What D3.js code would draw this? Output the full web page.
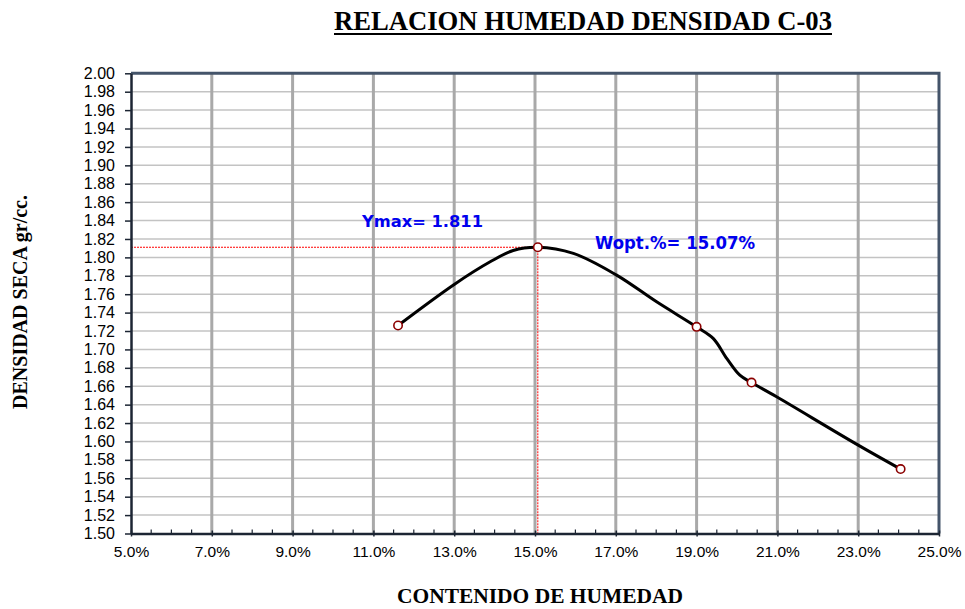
<!DOCTYPE html>
<html>
<head>
<meta charset="utf-8">
<script src="https://cdn.jsdelivr.net/npm/d3@7"></script>
<style>
  html, body { margin: 0; padding: 0; background: #fff; }
  svg { display: block; }
</style>
</head>
<body>
<svg id="chart" width="965" height="609"></svg>
<script>
// ---- data ----
const titleText = "RELACION HUMEDAD DENSIDAD C-03";
const xLabel = "CONTENIDO DE HUMEDAD";
const yLabel = "DENSIDAD SECA gr/cc.";
// measured points (moisture %, dry density)
const moisture = [11.61, 15.07, 19.00, 20.36, 24.05];
const density  = [1.726, 1.811, 1.7245, 1.664, 1.570];
// smoothed curve
const curveMoisture = [11.61, 13.00, 13.89, 14.46, 15.07, 15.95, 17.02, 18.01, 19.00, 19.41, 19.75, 20.07, 20.36, 20.98, 23.00, 24.05];
const curveDensity  = [1.726, 1.7706, 1.7952, 1.8075, 1.811, 1.8043, 1.7807, 1.7517, 1.7245, 1.712, 1.690, 1.672, 1.664, 1.6485, 1.596, 1.570];
const yMax = 1.811;
const wOpt = 15.07;
const xTicks = [5, 7, 9, 11, 13, 15, 17, 19, 21, 23, 25];
const yTicks = d3.range(0, 26).map(i => +(1.50 + i * 0.02).toFixed(2));
const xMinorTicks = d3.range(0, 41).map(i => 5 + i * 0.5);
const ymaxLabel = "Ymax= 1.811";
const woptLabel = "Wopt.%= 15.07%";

// ---- layout ----
const svg = d3.select("#chart");
const pLeft = 131, pRight = 939, pTop = 73.3, pBottom = 533.5;
const x = d3.scaleLinear().domain([5, 25]).range([pLeft, pRight]);
const y = d3.scaleLinear().domain([1.50, 2.00]).range([pBottom, pTop]);

// horizontal grid
svg.append("g").selectAll("line").data(yTicks.slice(1)).join("line")
  .attr("x1", pLeft).attr("x2", pRight)
  .attr("y1", d => y(d)).attr("y2", d => y(d))
  .attr("stroke", "#c3c3c3").attr("stroke-width", 1.5);
// vertical grid
svg.append("g").selectAll("line").data(xTicks.slice(1, -1)).join("line")
  .attr("x1", d => x(d)).attr("x2", d => x(d))
  .attr("y1", pTop).attr("y2", pBottom)
  .attr("stroke", "#a9a9a9").attr("stroke-width", 3);

// border top & right
svg.append("path")
  .attr("d", `M${pLeft},${pTop}H${pRight}V${pBottom}`)
  .attr("fill", "none").attr("stroke", "#44546a").attr("stroke-width", 3);

// red dotted reference lines
svg.append("line")
  .attr("x1", pLeft).attr("x2", x(wOpt))
  .attr("y1", y(yMax)).attr("y2", y(yMax))
  .attr("stroke", "#ff0000").attr("stroke-width", 1).attr("stroke-dasharray", "2,1");
svg.append("line")
  .attr("x1", x(wOpt)).attr("x2", x(wOpt))
  .attr("y1", y(yMax)).attr("y2", pBottom)
  .attr("stroke", "#ff0000").attr("stroke-width", 1).attr("stroke-dasharray", "2,1");

// y axis
const yAxis = svg.append("g").attr("transform", `translate(${pLeft},0)`)
  .call(d3.axisLeft(y).tickValues(yTicks).tickFormat(d3.format(".2f")).tickSize(6).tickPadding(10).tickSizeOuter(0));
yAxis.select(".domain").attr("stroke", "#1c2533").attr("stroke-width", 2.5);
yAxis.selectAll(".tick line").attr("stroke", "#1c2533").attr("stroke-width", 1.5);
yAxis.selectAll("text").attr("font-family", "'Liberation Sans', Arial, sans-serif")
  .attr("font-size", 16).attr("fill", "#000");

// x axis
const xAxis = svg.append("g").attr("transform", `translate(0,${pBottom})`)
  .call(d3.axisBottom(x).tickValues(xTicks).tickFormat(d => d.toFixed(1) + "%").tickSize(3).tickPadding(9).tickSizeOuter(0));
xAxis.select(".domain").attr("stroke", "#1c2533").attr("stroke-width", 2.5);
xAxis.selectAll(".tick line").attr("stroke", "#1c2533").attr("stroke-width", 1.5).attr("y1", -3);
xAxis.selectAll("text").attr("font-family", "'Liberation Sans', Arial, sans-serif")
  .attr("font-size", 15.5).attr("fill", "#000");
svg.append("g").selectAll("line").data(xMinorTicks.filter(d => !xTicks.includes(d))).join("line")
  .attr("x1", d => x(d)).attr("x2", d => x(d))
  .attr("y1", pBottom - 4).attr("y2", pBottom)
  .attr("stroke", "#1c2533").attr("stroke-width", 1.2);

// curve
const line = d3.line().x(d => x(d[0])).y(d => y(d[1])).curve(d3.curveCatmullRom.alpha(0.5));
svg.append("path")
  .datum(curveMoisture.map((m, i) => [m, curveDensity[i]]))
  .attr("d", line)
  .attr("fill", "none").attr("stroke", "#000").attr("stroke-width", 3)
  .attr("stroke-linecap", "round").attr("stroke-linejoin", "round");

// markers
svg.append("g").selectAll("circle").data(moisture.map((m, i) => [m, density[i]])).join("circle")
  .attr("cx", d => x(d[0])).attr("cy", d => y(d[1])).attr("r", 4.2)
  .attr("fill", "#fff").attr("stroke", "#8b0000").attr("stroke-width", 1.6);

// annotation labels
svg.append("text").attr("x", 362).attr("y", 227)
  .attr("font-family", "'DejaVu Sans', sans-serif").attr("font-weight", "bold")
  .attr("font-size", 16).attr("fill", "#0000ee")
  .attr("textLength", 121).attr("lengthAdjust", "spacingAndGlyphs")
  .text(ymaxLabel);
svg.append("text").attr("x", 595).attr("y", 248.5)
  .attr("font-family", "'DejaVu Sans', sans-serif").attr("font-weight", "bold")
  .attr("font-size", 18).attr("fill", "#0000ee")
  .attr("textLength", 160).attr("lengthAdjust", "spacingAndGlyphs")
  .text(woptLabel);

// title
svg.append("text").attr("x", 334).attr("y", 29.5)
  .attr("font-family", "'Liberation Serif', 'Times New Roman', serif")
  .attr("font-weight", "bold").attr("font-size", 27).attr("fill", "#000")
  .attr("textLength", 498).attr("lengthAdjust", "spacingAndGlyphs")
  .text(titleText);
svg.append("line").attr("x1", 334).attr("x2", 832).attr("y1", 34).attr("y2", 34)
  .attr("stroke", "#000").attr("stroke-width", 2);

// axis titles
svg.append("text").attr("x", 540).attr("y", 603)
  .attr("text-anchor", "middle")
  .attr("font-family", "'Liberation Serif', 'Times New Roman', serif")
  .attr("font-weight", "bold").attr("font-size", 20).attr("fill", "#000")
  .attr("textLength", 286).attr("lengthAdjust", "spacingAndGlyphs")
  .text(xLabel);
svg.append("text").attr("transform", "translate(27,302) rotate(-90)")
  .attr("text-anchor", "middle")
  .attr("font-family", "'Liberation Serif', 'Times New Roman', serif")
  .attr("font-weight", "bold").attr("font-size", 20).attr("fill", "#000")
  .text(yLabel);
</script>
</body>
</html>
